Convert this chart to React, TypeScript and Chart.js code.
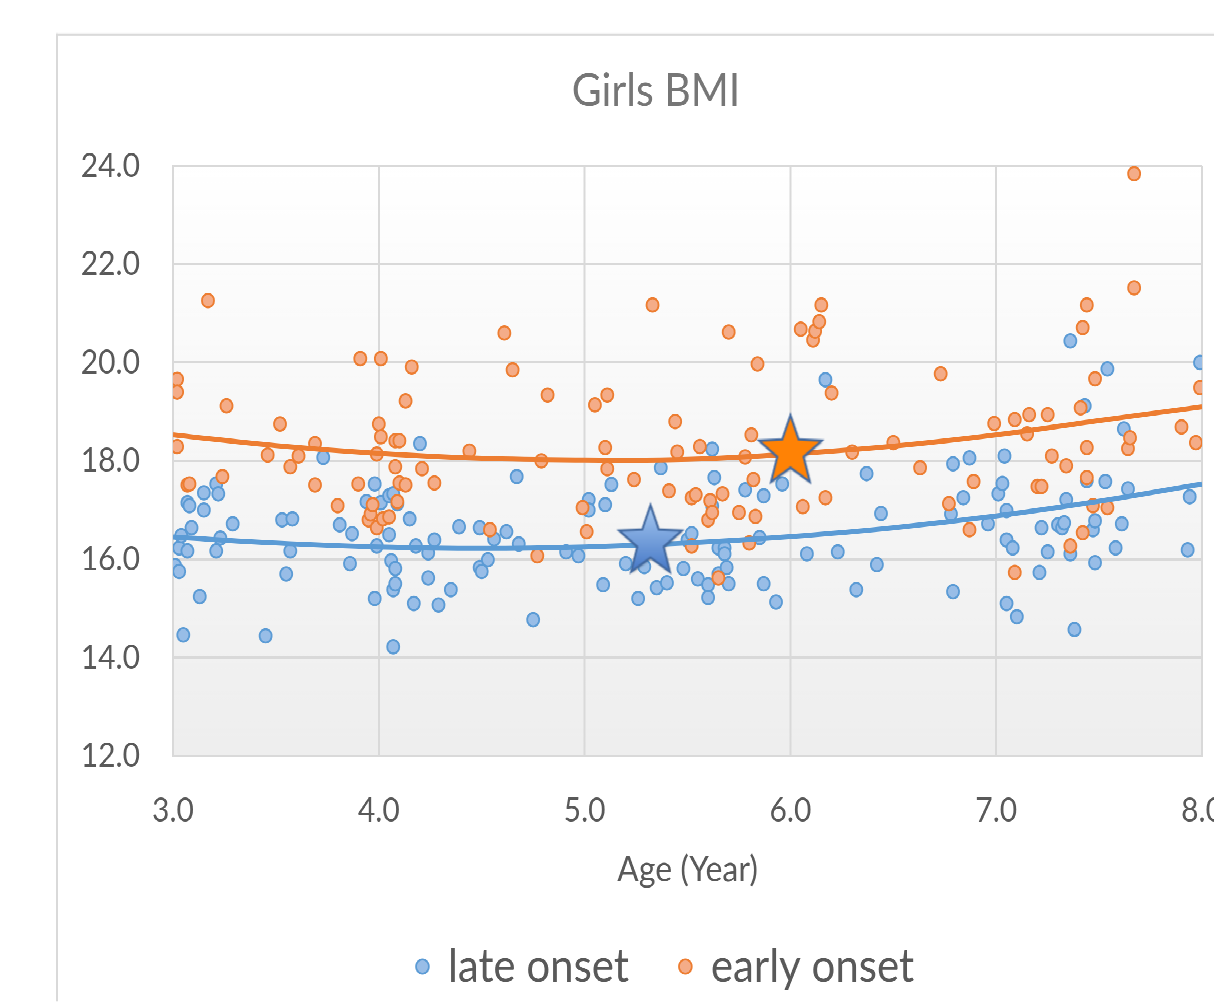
import React, { useEffect, useRef } from "react";
import { Chart, registerables } from "chart.js";

Chart.register(...registerables);

// ---- Data ----
const lateAge = [
  3.01, 3.03, 3.03, 3.04, 3.05, 3.07, 3.07, 3.08, 3.09, 3.13,
  3.15, 3.15, 3.21, 3.21, 3.22, 3.23, 3.29, 3.45, 3.53, 3.55,
  3.57, 3.58, 3.73, 3.81, 3.86, 3.87, 3.94, 3.98, 3.98, 3.99,
  4.01, 4.05, 4.05, 4.06, 4.07, 4.07, 4.07, 4.08, 4.08, 4.09,
  4.15, 4.17, 4.18, 4.2, 4.24, 4.24, 4.27, 4.29, 4.35, 4.39,
  4.49, 4.49, 4.5, 4.53, 4.56, 4.62, 4.67, 4.68, 4.75, 4.91,
  4.97, 5.02, 5.02, 5.09, 5.1, 5.13, 5.2, 5.26, 5.29, 5.35,
  5.37, 5.4, 5.48, 5.5, 5.52, 5.55, 5.6, 5.6, 5.62, 5.62,
  5.63, 5.65, 5.65, 5.68, 5.68, 5.69, 5.7, 5.78, 5.85, 5.87,
  5.87, 5.93, 5.96, 6.08, 6.17, 6.23, 6.32, 6.37, 6.42, 6.44,
  6.78, 6.79, 6.79, 6.84, 6.87, 6.96, 7.01, 7.03, 7.04, 7.05,
  7.05, 7.05, 7.08, 7.1, 7.21, 7.22, 7.25, 7.3, 7.32, 7.33,
  7.34, 7.36, 7.36, 7.38, 7.43, 7.44, 7.47, 7.48, 7.48, 7.53,
  7.54, 7.58, 7.61, 7.62, 7.64, 7.93, 7.94, 7.99,
];
const lateBMI = [
  15.87, 15.75, 16.23, 16.48, 14.46, 16.17, 17.15, 17.09, 16.64, 15.24,
  17.35, 17.0, 17.53, 16.17, 17.33, 16.43, 16.72, 14.44, 16.8, 15.7,
  16.17, 16.82, 18.07, 16.7, 15.91, 16.52, 17.17, 17.53, 15.2, 16.27,
  17.15, 17.29, 16.5, 15.97, 17.33, 15.38, 14.22, 15.81, 15.5, 17.13,
  16.82, 15.1, 16.27, 18.35, 16.13, 15.62, 16.39, 15.07, 15.38, 16.66,
  16.64, 15.83, 15.75, 15.99, 16.41, 16.56, 17.68, 16.31, 14.77, 16.15,
  16.07, 17.21, 17.0, 15.48, 17.11, 17.52, 15.91, 15.2, 15.85, 15.42,
  17.86, 15.52, 15.81, 16.39, 16.52, 15.6, 15.48, 15.22, 17.08, 18.24,
  17.66, 16.23, 15.7, 16.23, 16.11, 15.83, 15.5, 17.41, 16.44, 17.29,
  15.5, 15.13, 17.53, 16.11, 19.65, 16.15, 15.38, 17.74, 15.89, 16.93,
  16.92, 17.94, 15.34, 17.25, 18.06, 16.72, 17.33, 17.54, 18.1, 16.99,
  16.39, 15.1, 16.23, 14.83, 15.73, 16.64, 16.15, 16.7, 16.64, 16.74,
  17.21, 20.44, 16.11, 14.57, 19.12, 17.6, 16.6, 16.78, 15.93, 17.58,
  19.87, 16.23, 16.72, 18.65, 17.43, 16.19, 17.27, 20.0,
];

const earlyAge = [
  3.02, 3.02, 3.02, 3.07, 3.08, 3.17, 3.24, 3.26, 3.46, 3.52,
  3.57, 3.61, 3.69, 3.69, 3.8, 3.9, 3.91, 3.95, 3.96, 3.97,
  3.99, 3.99, 4.0, 4.01, 4.01, 4.02, 4.05, 4.08, 4.08, 4.09,
  4.1, 4.1, 4.13, 4.13, 4.16, 4.21, 4.27, 4.44, 4.54, 4.61,
  4.65, 4.77, 4.79, 4.82, 4.99, 5.01, 5.05, 5.1, 5.11, 5.11,
  5.24, 5.33, 5.41, 5.44, 5.45, 5.52, 5.52, 5.54, 5.56, 5.6,
  5.61, 5.62, 5.65, 5.67, 5.7, 5.75, 5.78, 5.8, 5.81, 5.82,
  5.83, 5.84, 6.05, 6.06, 6.11, 6.12, 6.14, 6.15, 6.17, 6.2,
  6.3, 6.5, 6.63, 6.73, 6.77, 6.87, 6.89, 6.99, 7.09, 7.09,
  7.15, 7.16, 7.2, 7.22, 7.25, 7.27, 7.34, 7.36, 7.41, 7.42,
  7.42, 7.44, 7.44, 7.44, 7.47, 7.48, 7.54, 7.64, 7.65, 7.67,
  7.67, 7.9, 7.97, 7.99,
];
const earlyBMI = [
  19.66, 19.4, 18.29, 17.51, 17.53, 21.26, 17.68, 19.12, 18.12, 18.75,
  17.88, 18.1, 18.35, 17.51, 17.09, 17.53, 20.08, 16.8, 16.92, 17.11,
  16.64, 18.14, 18.75, 18.49, 20.08, 16.82, 16.86, 18.41, 17.88, 17.17,
  18.41, 17.55, 17.51, 19.22, 19.91, 17.84, 17.55, 18.2, 16.6, 20.6,
  19.85, 16.07, 18.0, 19.34, 17.05, 16.56, 19.14, 18.27, 17.84, 19.34,
  17.62, 21.17, 17.39, 18.8, 18.18, 17.25, 16.27, 17.31, 18.29, 16.8,
  17.19, 16.95, 15.62, 17.33, 20.62, 16.95, 18.08, 16.33, 18.53, 17.62,
  16.87, 19.97, 20.68, 17.07, 20.46, 20.64, 20.83, 21.17, 17.25, 19.38,
  18.18, 18.37, 17.86, 19.77, 17.13, 16.6, 17.58, 18.76, 18.84, 15.73,
  18.55, 18.94, 17.48, 17.48, 18.94, 18.1, 17.9, 16.27, 19.08, 20.71,
  16.54, 21.17, 18.27, 17.66, 17.09, 19.67, 17.05, 18.25, 18.47, 21.52,
  23.84, 18.69, 18.37, 19.49,
];

// Polynomial trend lines
const trendAge = [3, 3.5, 4, 4.5, 5, 5.5, 6, 6.5, 7, 7.5, 8];
const lateTrend = [16.45, 16.33, 16.25, 16.22, 16.25, 16.33, 16.46, 16.64, 16.88, 17.18, 17.53];
const earlyTrend = [18.53, 18.31, 18.15, 18.05, 18.02, 18.03, 18.14, 18.3, 18.53, 18.82, 19.1];

// Star markers (mean ages / BMI)
const starAge = [5.32, 6.0];
const starBMI = [16.35, 18.18];

const seriesNames = ["late onset", "early onset"];
const chartTitle = "Girls BMI";
const xTitle = "Age (Year)";
const xRange = [3, 8];
const yRange = [12, 24];

const pts = (xs: number[], ys: number[]) => xs.map((x, i) => ({ x, y: ys[i] }));

function makeStar(kind: "blue" | "orange"): HTMLCanvasElement {
  const R = 33;
  const r = R * 0.42;
  const pad = 6;
  const size = 2 * (R + pad);
  const dpr = 2;
  const c = document.createElement("canvas");
  c.width = size * dpr;
  c.height = size * dpr;
  const g = c.getContext("2d")!;
  g.scale(dpr, dpr);
  const cx = size / 2;
  const cy = size / 2;
  g.beginPath();
  for (let i = 0; i < 10; i++) {
    const a = -Math.PI / 2 + (i * Math.PI) / 5;
    const rad = i % 2 === 0 ? R : r;
    const px = cx + rad * Math.cos(a);
    const py = cy + rad * Math.sin(a);
    if (i === 0) g.moveTo(px, py);
    else g.lineTo(px, py);
  }
  g.closePath();
  g.save();
  g.shadowColor = "rgba(0,0,0,0.35)";
  g.shadowBlur = 4;
  g.shadowOffsetX = 1.5;
  g.shadowOffsetY = 2;
  if (kind === "blue") {
    const gr = g.createLinearGradient(0, cy - R, 0, cy + R);
    gr.addColorStop(0, "#A9CBF2");
    gr.addColorStop(1, "#3B6FC2");
    g.fillStyle = gr;
  } else {
    g.fillStyle = "#FF8205";
  }
  g.fill();
  g.restore();
  g.lineWidth = 2;
  g.strokeStyle = "#41689F";
  g.stroke();

  const out = document.createElement("canvas");
  out.width = size;
  out.height = size;
  const o = out.getContext("2d")!;
  o.imageSmoothingQuality = "high";
  o.drawImage(c, 0, 0, size, size);
  return out;
}

const plotBackground = {
  id: "plotBackground",
  beforeDraw(chart: any) {
    const { ctx, chartArea } = chart;
    if (!chartArea) return;
    const { left, top, right, bottom } = chartArea;
    const g = ctx.createLinearGradient(0, top, 0, bottom);
    g.addColorStop(0, "#ffffff");
    g.addColorStop(1, "#eeeeee");
    ctx.save();
    ctx.fillStyle = g;
    ctx.fillRect(left, top, right - left, bottom - top);
    ctx.restore();
  },
};

// nudges the (full-width) legend row slightly to the right, as in the reference
const legendNudge = {
  id: "legendNudge",
  afterLayout(chart: any) {
    const lg = chart.legend;
    if (lg) {
      lg.left += 10;
      lg.right += 10;
    }
  },
};

const W = 1196;
const H = 862;
const STRETCH = 1.12;

export default function App() {
  const canvasRef = useRef<HTMLCanvasElement | null>(null);

  useEffect(() => {
    document.body.style.margin = "0";
    document.documentElement.style.overflow = "hidden";
    const canvas = canvasRef.current;
    if (!canvas) return;
    Chart.defaults.font.family = "Lato, 'Open Sans', sans-serif";

    const blueStar = makeStar("blue");
    const orangeStar = makeStar("orange");

    const chart = new Chart(canvas, {
      type: "scatter",
      data: {
        datasets: [
          {
            label: seriesNames[0],
            data: pts(lateAge, lateBMI),
            backgroundColor: "#98BDE7",
            borderColor: "#5B9BD5",
            borderWidth: 1.8,
            pointRadius: 6,
            pointStyle: "circle",
            order: 4,
          },
          {
            label: seriesNames[1],
            data: pts(earlyAge, earlyBMI),
            backgroundColor: "#F4AC88",
            borderColor: "#ED7D31",
            borderWidth: 1.8,
            pointRadius: 6,
            pointStyle: "circle",
            order: 3,
          },
          {
            type: "line",
            label: "late trend",
            data: pts(trendAge, lateTrend),
            borderColor: "#5B9BD5",
            borderWidth: 4.5,
            pointRadius: 0,
            tension: 0.4,
            fill: false,
            order: 2,
          },
          {
            type: "line",
            label: "early trend",
            data: pts(trendAge, earlyTrend),
            borderColor: "#ED7D31",
            borderWidth: 4.5,
            pointRadius: 0,
            tension: 0.4,
            fill: false,
            order: 2,
          },
          {
            label: "late star",
            data: [{ x: starAge[0], y: starBMI[0] }],
            pointStyle: blueStar as any,
            pointRadius: 33,
            order: 1,
          },
          {
            label: "early star",
            data: [{ x: starAge[1], y: starBMI[1] }],
            pointStyle: orangeStar as any,
            pointRadius: 33,
            order: 0,
          },
        ] as any,
      },
      options: {
        animation: false,
        responsive: false,
        devicePixelRatio: 2,
        events: [],
        layout: { padding: 0 },
        plugins: {
          tooltip: { enabled: false },
          title: {
            display: true,
            text: chartTitle,
            color: "#767676",
            font: { size: 41, weight: "normal" as any },
            padding: { top: 24.5, bottom: 42.4 },
          },
          legend: {
            display: true,
            position: "bottom",
            labels: {
              usePointStyle: true,
              boxWidth: 9,
              boxHeight: 9,
              padding: 52,
              color: "#595959",
              font: { size: 42 },
              filter: (item: any) => item.datasetIndex < 2,
              sort: (a: any, b: any) => a.datasetIndex - b.datasetIndex,
            },
          },
        },
        scales: {
          x: {
            type: "linear",
            min: xRange[0],
            max: xRange[1],
            ticks: {
              stepSize: 1,
              padding: 31,
              color: "#595959",
              font: { size: 30 },
              callback: (v: any) => Number(v).toFixed(1),
            },
            grid: { color: "#d9d9d9", lineWidth: 2, drawTicks: false },
            border: { display: true, color: "#d9d9d9", width: 2 },
            title: {
              display: true,
              text: xTitle,
              color: "#595959",
              font: { size: 32 },
              padding: { top: -15.3, bottom: -6 },
            },
          },
          y: {
            type: "linear",
            position: "left",
            min: yRange[0],
            max: yRange[1],
            afterFit: (scale: any) => {
              scale.width = 115;
            },
            ticks: {
              stepSize: 2,
              padding: 33,
              color: "#595959",
              font: { size: 30 },
              callback: (v: any) => Number(v).toFixed(1),
            },
            grid: { color: "#d9d9d9", lineWidth: 2, drawTicks: false },
            border: { display: true, color: "#d9d9d9", width: 2 },
          },
          yRightSpace: {
            type: "linear",
            position: "right",
            min: yRange[0],
            max: yRange[1],
            afterFit: (scale: any) => {
              scale.width = 51;
            },
            ticks: { display: false },
            grid: { display: false, drawTicks: false },
            border: { display: false },
          },
        },
      } as any,
      plugins: [plotBackground, legendNudge],
    });
    return () => chart.destroy();
  }, []);

  return (
    <div
      style={{
        position: "fixed",
        left: 0,
        top: 0,
        width: 1214,
        height: 1004,
        overflow: "hidden",
        background: "#ffffff",
      }}
    >
      <div
        style={{
          position: "absolute",
          left: 0,
          top: 0,
          width: 1400,
          height: 900,
          transform: `scaleY(${STRETCH})`,
          transformOrigin: "0 0",
        }}
      >
        <div
          style={{
            position: "absolute",
            left: 56,
            top: 29.5,
            borderLeft: "2px solid #d9d9d9",
            borderTop: "2px solid #d9d9d9",
            background: "#ffffff",
          }}
        >
          <canvas
            ref={canvasRef}
            width={W}
            height={H}
            style={{ display: "block", width: W, height: H }}
          />
        </div>
      </div>
    </div>
  );
}
